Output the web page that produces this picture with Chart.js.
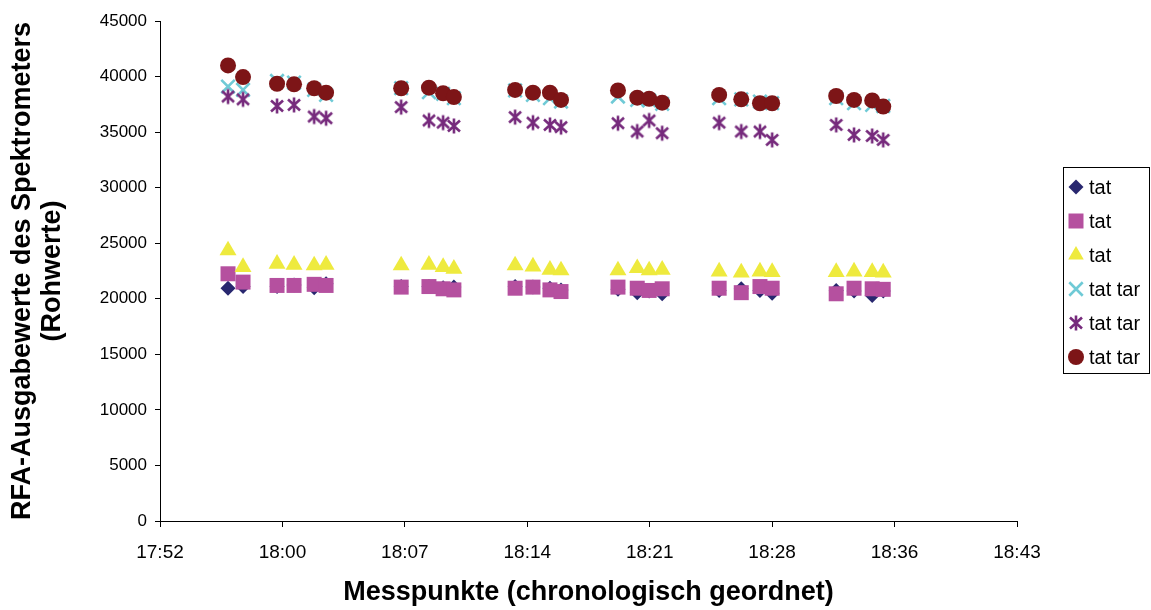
<!DOCTYPE html>
<html>
<head>
<meta charset="utf-8">
<script src="https://cdn.jsdelivr.net/npm/chart.js@4.4.1/dist/chart.umd.min.js"></script>
<style>
  body { margin: 0; background: #fff; }
  #wrap { width: 1151px; height: 610px; }
</style>
</head>
<body>
<div id="wrap"><canvas id="rfaChart" width="1151" height="610"></canvas></div>
<script>
// measurement times (hh:mm:ss)
const messZeiten = [
    '17:56:48', '17:57:41', '17:59:41', '18:00:41', '18:01:52', '18:02:34',
    '18:06:59', '18:08:37', '18:09:27', '18:10:05',
    '18:13:41', '18:14:44', '18:15:44', '18:16:23',
    '18:19:44', '18:20:52', '18:21:34', '18:22:20',
    '18:25:41', '18:26:59', '18:28:05', '18:28:48',
    '18:32:34', '18:33:37', '18:34:41', '18:35:20'
];

const serieRaute = [20950, 21100, 21100, 21250, 21000, 21350, 21100, 21100, 21000, 21050,
    21100, 21050, 20950, 20800, 20850, 20550, 20700, 20450, 20750, 20900, 20750, 20500,
    20750, 20700, 20300, 20700];
const serieQuadrat = [22250, 21500, 21200, 21200, 21300, 21200, 21050, 21100, 20900, 20800,
    20950, 21050, 20800, 20650, 21050, 20950, 20750, 20900, 20950, 20550, 21100, 20950,
    20450, 20950, 20900, 20850];
const serieDreieck = [24350, 22850, 23150, 23050, 23000, 23050, 23000, 23050, 22850, 22700,
    23000, 22900, 22600, 22550, 22550, 22750, 22550, 22600, 22450, 22350, 22450, 22400,
    22400, 22450, 22400, 22350];
const serieKreuz = [39100, 38800, 39600, 39450, 38800, 38350, 38950, 38600, 38450, 38050,
    38750, 38350, 38050, 37750, 38200, 37900, 37850, 37550, 38050, 37950, 37750, 37600,
    38050, 37600, 37450, 37350];
const serieStern = [38200, 37950, 37350, 37450, 36400, 36250, 37250, 36050, 35850, 35550,
    36350, 35850, 35650, 35450, 35800, 35050, 36050, 34900, 35850, 35050, 35050, 34300,
    35650, 34750, 34650, 34300];
const serieKreis = [41000, 39950, 39350, 39300, 38950, 38550, 38950, 39000, 38500, 38150,
    38800, 38550, 38550, 37900, 38750, 38100, 38000, 37650, 38350, 37950, 37600, 37600,
    38250, 37900, 37850, 37300];

const legendeNamen = ['tat', 'tat', 'tat', 'tat tar', 'tat tar', 'tat tar'];

// x axis in minutes after midnight, ticks every 7.2 min
const xTickWerte = [1072.8, 1080, 1087.2, 1094.4, 1101.6, 1108.8, 1116, 1123.2];
const xTickLabels = ['17:52', '18:00', '18:07', '18:14', '18:21', '18:28', '18:36', '18:43'];
const yTickLabels = ['0', '5000', '10000', '15000', '20000', '25000', '30000', '35000', '40000', '45000'];

function inMinuten(t) {
    const [h, m, s] = t.split(':').map(Number);
    return h * 60 + m + s / 60;
}

// excel style asterisk marker: vertical bar + x
function sternBild(farbe) {
    const c = document.createElement('canvas');
    c.width = 18; c.height = 18;
    const g = c.getContext('2d');
    g.strokeStyle = farbe;
    g.lineWidth = 2.6;
    g.beginPath();
    g.moveTo(9, 1.5); g.lineTo(9, 16.5);
    g.moveTo(3, 3.5); g.lineTo(15, 14.5);
    g.moveTo(15, 3.5); g.lineTo(3, 14.5);
    g.stroke();
    return c;
}

const farben = ['#28276f', '#b5509f', '#eeea3e', '#6fcad6', '#762a7c', '#7d1517'];

const serien = [
    { werte: serieRaute, style: 'rectRot', radius: 7.5, borderWidth: 0 },
    { werte: serieQuadrat, style: 'rect', radius: 10.6, borderWidth: 0 },
    { werte: serieDreieck, style: 'triangle', radius: 9.8, borderWidth: 0 },
    { werte: serieKreuz, style: 'crossRot', radius: 9.5, borderWidth: 2.6 },
    { werte: serieStern, style: sternBild(farben[4]), radius: 9, borderWidth: 0 },
    { werte: serieKreis, style: 'circle', radius: 8, borderWidth: 0 }
];

const datasets = serien.map((s, i) => ({
    label: legendeNamen[i],
    data: s.werte.map((v, k) => ({ x: inMinuten(messZeiten[k]), y: v })),
    pointStyle: s.style,
    pointRadius: s.radius,
    pointHoverRadius: s.radius,
    pointBorderWidth: s.borderWidth,
    backgroundColor: farben[i],
    borderColor: farben[i],
    showLine: false,
    order: serien.length - 1 - i
}));

// boxed legend on the right
const legendeBox = {
    id: 'legendeBox',
    afterDraw(chart) {
        const ctx = chart.ctx;
        ctx.save();
        ctx.strokeStyle = '#000';
        ctx.lineWidth = 1;
        ctx.strokeRect(1063.5, 167.5, 86, 206);
        ctx.font = '20px "Liberation Sans", Arial, sans-serif';
        ctx.textBaseline = 'middle';
        ctx.textAlign = 'left';
        serien.forEach((s, i) => {
            const y = 187 + i * 34;
            ctx.fillStyle = farben[i];
            ctx.strokeStyle = farben[i];
            ctx.lineWidth = s.borderWidth || 1;
            Chart.helpers.drawPoint(ctx, {
                pointStyle: s.style,
                radius: s.style === 'triangle' ? 9 : s.radius,
                rotation: 0,
                borderWidth: s.borderWidth
            }, 1076, y);
            ctx.fillStyle = '#000';
            ctx.fillText(legendeNamen[i], 1089, y + 1);
        });
        ctx.restore();
    }
};

new Chart(document.getElementById('rfaChart').getContext('2d'), {
    type: 'scatter',
    data: { datasets: datasets },
    options: {
        responsive: false,
        animation: false,
        events: [],
        layout: { padding: { top: 21, right: 134, bottom: 0, left: 0 } },
        plugins: {
            legend: { display: false },
            tooltip: { enabled: false }
        },
        scales: {
            x: {
                type: 'linear',
                min: xTickWerte[0],
                max: xTickWerte[xTickWerte.length - 1],
                afterBuildTicks: (scale) => {
                    scale.ticks = xTickWerte.map(v => ({ value: v }));
                },
                afterFit: (scale) => { scale.height = 89; },
                grid: { drawOnChartArea: false, drawTicks: true, tickLength: 6, tickColor: '#000' },
                border: { display: true, color: '#000', width: 1 },
                ticks: {
                    color: '#000',
                    padding: 14,
                    maxRotation: 0,
                    autoSkip: false,
                    font: { family: '"Liberation Sans", Arial, sans-serif', size: 19 },
                    callback: (v, i) => xTickLabels[i]
                },
                title: {
                    display: true,
                    text: 'Messpunkte (chronologisch geordnet)',
                    color: '#000',
                    font: { family: '"Liberation Sans", Arial, sans-serif', size: 27, weight: 'bold', lineHeight: 1.2 },
                    padding: { top: 0, bottom: 1 }
                }
            },
            y: {
                min: 0,
                max: 45000,
                afterBuildTicks: (scale) => {
                    scale.ticks = yTickLabels.map(t => ({ value: Number(t) }));
                },
                afterFit: (scale) => { scale.width = 160; },
                grid: { drawOnChartArea: false, drawTicks: true, tickLength: 5, tickColor: '#000' },
                border: { display: true, color: '#000', width: 1 },
                ticks: {
                    color: '#000',
                    padding: 8,
                    font: { family: '"Liberation Sans", Arial, sans-serif', size: 17 },
                    callback: (v, i) => yTickLabels[i]
                },
                title: {
                    display: true,
                    text: ['RFA-Ausgabewerte des Spektrometers', '(Rohwerte)'],
                    color: '#000',
                    font: { family: '"Liberation Sans", Arial, sans-serif', size: 27, weight: 'bold', lineHeight: 1.12 },
                    padding: { top: 7, bottom: 0 }
                }
            }
        }
    },
    plugins: [legendeBox]
});
</script>
</body>
</html>
